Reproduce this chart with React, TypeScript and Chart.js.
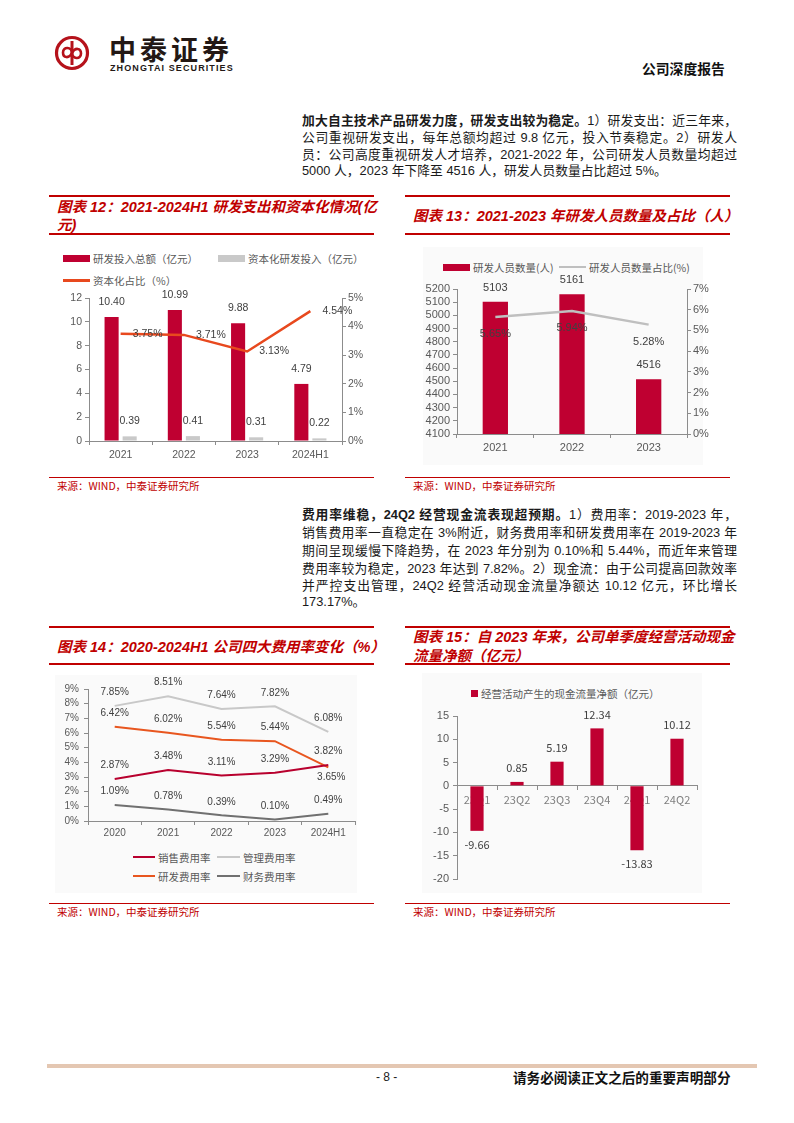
import React, { useEffect, useRef } from "react";
import { Chart, registerables } from "chart.js";

Chart.register(...registerables);

// ---------- Data: 图表12 ----------
const rdYears = ["2021", "2022", "2023", "2024H1"];
const rdTotal = [10.4, 10.99, 9.88, 4.79];
const rdCapitalized = [0.39, 0.41, 0.31, 0.22];
const rdCapRatio = [3.75, 3.71, 3.13, 4.54];

// ---------- Data: 图表13 ----------
const staffYears = ["2021", "2022", "2023"];
const staffCount = [5103, 5161, 4516];
const staffRatio = [5.65, 5.94, 5.28];

// ---------- Data: 图表14 ----------
const feeYears = ["2020", "2021", "2022", "2023", "2024H1"];
const salesRate = [2.87, 3.48, 3.11, 3.29, 3.82];
const adminRate = [7.85, 8.51, 7.64, 7.82, 6.08];
const rdRate = [6.42, 6.02, 5.54, 5.44, 3.65];
const finRate = [1.09, 0.78, 0.39, 0.1, 0.49];

// ---------- Data: 图表15 ----------
const quarters = ["23Q1", "23Q2", "23Q3", "23Q4", "24Q1", "24Q2"];
const opCashFlow = [-9.66, 0.85, 5.19, 12.34, -13.83, 10.12];

// ---------- Styles ----------
const SANS = '"Liberation Sans", Arial, "Noto Sans CJK SC", sans-serif';
const CJK = '"Noto Sans CJK SC", "Liberation Sans", sans-serif';
const RED = "#c00000";
const CRIMSON = "#bf0031";
const ORANGE = "#e8491e";
const GREY_BAR = "#c9c9c9";
const AXIS = "#8c8c8c";
const TICK = "#595959";
const LABEL = "#404040";
const LEGEND = "#595959";

const valueLabelPlugin = {
  id: "valueLabel",
  afterDatasetsDraw(chart: any) {
    const ctx = chart.ctx;
    chart.data.datasets.forEach((ds: any, di: number) => {
      const cfg = ds.valueLabel;
      if (!cfg) return;
      const meta = chart.getDatasetMeta(di);
      meta.data.forEach((el: any, i: number) => {
        const v = ds.data[i];
        let dx = cfg.dx || 0;
        let dy = cfg.dy || 0;
        if (cfg.signed && v < 0) dy = -dy;
        if (cfg.override && cfg.override[i]) {
          const o = cfg.override[i];
          if (o.dx !== undefined) dx = o.dx;
          if (o.dy !== undefined) dy = o.dy;
        }
        ctx.save();
        ctx.font = cfg.font;
        ctx.fillStyle = cfg.color || LABEL;
        ctx.textAlign = "center";
        ctx.textBaseline = "middle";
        ctx.fillText(cfg.format(v), el.x + dx, el.y + dy);
        ctx.restore();
      });
    });
  },
};

function axisGrid() {
  return { display: true, drawOnChartArea: false, drawTicks: true, tickLength: 4, color: AXIS, lineWidth: 1 };
}

function ChartBox(props: { left: number; top: number; width: number; height: number; make: () => any }) {
  const ref = useRef<HTMLCanvasElement>(null);
  useEffect(() => {
    const chart = new Chart(ref.current as HTMLCanvasElement, props.make());
    return () => chart.destroy();
  }, []);
  return (
    <canvas
      ref={ref}
      width={props.width}
      height={props.height}
      style={{ position: "absolute", left: props.left, top: props.top, width: props.width, height: props.height }}
    />
  );
}

// ---------- Chart configs ----------
function chart12() {
  const f = { family: SANS, size: 10.5 };
  return {
    type: "bar",
    data: {
      labels: rdYears,
      datasets: [
        {
          label: "研发投入总额（亿元）",
          data: rdTotal,
          backgroundColor: CRIMSON,
          yAxisID: "y",
          order: 1,
          categoryPercentage: 0.571,
          barPercentage: 0.78,
          valueLabel: { dy: -15, font: `10.5px ${SANS}`, format: (v: number) => v.toFixed(2) },
        },
        {
          label: "资本化研发投入（亿元）",
          data: rdCapitalized,
          backgroundColor: GREY_BAR,
          yAxisID: "y",
          order: 1,
          categoryPercentage: 0.571,
          barPercentage: 0.78,
          valueLabel: { dy: -15, font: `10.5px ${SANS}`, format: (v: number) => v.toFixed(2) },
        },
        {
          type: "line",
          label: "资本化占比（%）",
          data: rdCapRatio,
          yAxisID: "y1",
          borderColor: ORANGE,
          backgroundColor: ORANGE,
          borderWidth: 2.5,
          pointRadius: 0,
          tension: 0,
          order: 0,
          valueLabel: { dx: 27, dy: 0, font: `10.5px ${SANS}`, format: (v: number) => v.toFixed(2) + "%" },
        },
      ],
    },
    options: {
      responsive: false,
      animation: false,
      layout: { padding: { top: 13, left: 0, right: 0, bottom: 0 } },
      plugins: { legend: { display: false }, tooltip: { enabled: false } },
      scales: {
        x: {
          offset: true,
          grid: { ...axisGrid(), offset: true },
          border: { display: true, color: AXIS },
          ticks: { color: TICK, font: f, padding: 4 },
          afterFit: (s: any) => { s.height = 34; },
        },
        y: {
          position: "left",
          min: 0,
          max: 12,
          grid: axisGrid(),
          border: { display: true, color: AXIS },
          ticks: { stepSize: 2, color: TICK, font: f, padding: 3, autoSkip: false },
          afterFit: (s: any) => { s.width = 44; },
        },
        y1: {
          position: "right",
          min: 0,
          max: 5,
          grid: axisGrid(),
          border: { display: true, color: AXIS },
          ticks: { stepSize: 1, color: TICK, font: f, padding: 2, autoSkip: false, callback: (v: any) => v + "%" },
          afterFit: (s: any) => { s.width = 43; },
        },
      },
    },
    plugins: [valueLabelPlugin],
  };
}

function chart13() {
  const f = { family: SANS, size: 11 };
  return {
    type: "bar",
    data: {
      labels: staffYears,
      datasets: [
        {
          label: "研发人员数量(人)",
          data: staffCount,
          backgroundColor: CRIMSON,
          yAxisID: "y",
          order: 1,
          categoryPercentage: 1,
          barPercentage: 0.33,
          valueLabel: { dy: -14, font: `11px ${SANS}`, format: (v: number) => String(v) },
        },
        {
          type: "line",
          label: "研发人员数量占比(%)",
          data: staffRatio,
          yAxisID: "y1",
          borderColor: "#bfbfbf",
          backgroundColor: "#bfbfbf",
          borderWidth: 2.5,
          pointRadius: 0,
          order: 0,
          valueLabel: { dy: 17, font: `11px ${SANS}`, format: (v: number) => v.toFixed(2) + "%" },
        },
      ],
    },
    options: {
      responsive: false,
      animation: false,
      layout: { padding: { top: 14, left: 0, right: 0, bottom: 0 } },
      plugins: { legend: { display: false }, tooltip: { enabled: false } },
      scales: {
        x: {
          offset: true,
          grid: { ...axisGrid(), offset: true },
          border: { display: true, color: AXIS },
          ticks: { color: TICK, font: f, padding: 3 },
          afterFit: (s: any) => { s.height = 26; },
        },
        y: {
          position: "left",
          min: 4100,
          max: 5200,
          grid: axisGrid(),
          border: { display: true, color: AXIS },
          ticks: { stepSize: 100, color: TICK, font: f, padding: 3, autoSkip: false, callback: (v: any) => String(v) },
          afterFit: (s: any) => { s.width = 52; },
        },
        y1: {
          position: "right",
          min: 0,
          max: 7,
          grid: axisGrid(),
          border: { display: true, color: AXIS },
          ticks: { stepSize: 1, color: TICK, font: f, padding: 2, autoSkip: false, callback: (v: any) => v + "%" },
          afterFit: (s: any) => { s.width = 38; },
        },
      },
    },
    plugins: [valueLabelPlugin],
  };
}

function chart14() {
  const f = { family: SANS, size: 10 };
  const lbl = (extra: any = {}) => ({
    dy: -13.5,
    font: `10px ${SANS}`,
    format: (v: number) => v.toFixed(2) + "%",
    ...extra,
  });
  const line = (label: string, data: number[], color: string, extra: any = {}) => ({
    label,
    data,
    borderColor: color,
    backgroundColor: color,
    borderWidth: 2,
    pointRadius: 0,
    tension: 0,
    ...extra,
  });
  return {
    type: "line",
    data: {
      labels: feeYears,
      datasets: [
        line("管理费用率", adminRate, "#c8c8c8", { valueLabel: lbl() }),
        line("财务费用率", finRate, "#707070", { valueLabel: lbl() }),
        line("销售费用率", salesRate, "#b8002e", { valueLabel: lbl() }),
        line("研发费用率", rdRate, "#e8561f", { valueLabel: lbl({ override: { 4: { dx: 3, dy: 10 } } }) }),
      ],
    },
    options: {
      responsive: false,
      animation: false,
      layout: { padding: { top: 21, left: 0, right: 20, bottom: 0 } },
      plugins: { legend: { display: false }, tooltip: { enabled: false } },
      scales: {
        x: {
          offset: true,
          grid: { ...axisGrid(), offset: true },
          border: { display: true, color: AXIS },
          ticks: { color: TICK, font: f, padding: 2 },
          afterFit: (s: any) => { s.height = 22; },
        },
        y: {
          min: 0,
          max: 9,
          grid: axisGrid(),
          border: { display: true, color: AXIS },
          ticks: { stepSize: 1, color: TICK, font: f, padding: 5, autoSkip: false, callback: (v: any) => v + "%" },
          afterFit: (s: any) => { s.width = 43; },
        },
      },
    },
    plugins: [valueLabelPlugin],
  };
}

function chart15() {
  const f = { family: SANS, size: 11 };
  return {
    type: "bar",
    data: {
      labels: quarters,
      datasets: [
        {
          label: "经营活动产生的现金流量净额（亿元）",
          data: opCashFlow,
          backgroundColor: CRIMSON,
          categoryPercentage: 1,
          barPercentage: 0.33,
          valueLabel: { dy: -14, signed: true, font: `11px ${CJK}`, format: (v: number) => v.toFixed(2) },
        },
      ],
    },
    options: {
      responsive: false,
      animation: false,
      layout: { padding: { top: 16, left: 0, right: 13, bottom: 11 } },
      plugins: { legend: { display: false }, tooltip: { enabled: false } },
      scales: {
        x: {
          position: { y: 0 },
          offset: true,
          grid: { ...axisGrid(), offset: true },
          border: { display: true, color: AXIS },
          ticks: { color: "#7f7f7f", font: { family: CJK, size: 11 }, padding: 3 },
        },
        y: {
          min: -20,
          max: 15,
          grid: axisGrid(),
          border: { display: true, color: AXIS },
          ticks: { stepSize: 5, color: TICK, font: f, padding: 4, autoSkip: false },
          afterFit: (s: any) => { s.width = 47; },
        },
      },
    },
    plugins: [valueLabelPlugin],
  };
}

// ---------- Page helpers ----------
function HLine(props: { x1: number; x2: number; y: number; h: number; color: string }) {
  return (
    <div
      style={{
        position: "absolute",
        left: props.x1,
        top: props.y - props.h / 2,
        width: props.x2 - props.x1,
        height: props.h,
        background: props.color,
      }}
    />
  );
}

function TextAt(props: {
  x: number;
  y: number;
  size: number;
  children: any;
  color?: string;
  bold?: boolean;
  italic?: boolean;
  family?: string;
  width?: number;
  justify?: boolean;
  spacing?: number;
}) {
  const lh = Math.round(props.size * 1.4);
  return (
    <div
      style={{
        position: "absolute",
        left: props.x,
        top: props.y - lh / 2,
        width: props.width,
        height: lh,
        lineHeight: lh + "px",
        fontSize: props.size,
        fontFamily: props.family || SANS,
        fontWeight: props.bold ? 700 : 400,
        fontStyle: props.italic ? "italic" : "normal",
        color: props.color || "#1a1a1a",
        textAlign: props.justify ? "justify" : "left",
        textAlignLast: props.justify ? "justify" : "auto",
        letterSpacing: props.spacing,
        whiteSpace: props.width ? "normal" : "nowrap",
      }}
    >
      {props.children}
    </div>
  );
}

function Title(props: { x1: number; x2: number; top: number; bottom: number; lines: string[]; centers: number[] }) {
  return (
    <>
      <HLine x1={props.x1} x2={props.x2} y={props.top} h={2} color={RED} />
      {props.lines.map((t, i) => (
        <TextAt key={i} x={props.x1 + 8} y={props.centers[i]} size={14.5} bold italic color={RED}>
          {t}
        </TextAt>
      ))}
      <HLine x1={props.x1} x2={props.x2} y={props.bottom} h={1.5} color={RED} />
    </>
  );
}

function Source(props: { x1: number; x2: number; y: number }) {
  return (
    <>
      <HLine x1={props.x1} x2={props.x2} y={props.y} h={1} color={RED} />
      <TextAt x={props.x1 + 8} y={props.y + 8} size={10.5} color={RED} family={CJK}>
        来源：WIND，中泰证券研究所
      </TextAt>
    </>
  );
}

function LegendBox(props: { x: number; y: number; w: number; h: number; color: string; label: string }) {
  return (
    <>
      <div
        style={{
          position: "absolute",
          left: props.x,
          top: props.y - props.h / 2,
          width: props.w,
          height: props.h,
          background: props.color,
        }}
      />
      <TextAt x={props.x + props.w + 3} y={props.y} size={10.5} color={LEGEND} family={CJK}>
        {props.label}
      </TextAt>
    </>
  );
}

function Bg(props: { x: number; y: number; w: number; h: number }) {
  return (
    <div style={{ position: "absolute", left: props.x, top: props.y, width: props.w, height: props.h, background: "#fafafa" }} />
  );
}

function Logo() {
  return (
    <>
      <svg width="36" height="36" viewBox="0 0 36 36" style={{ position: "absolute", left: 53.5, top: 34.5 }}>
        <circle cx="18" cy="18" r="15.5" fill="none" stroke="#b5121b" strokeWidth="3.2" />
        <line x1="18" y1="6" x2="18" y2="30" stroke="#b5121b" strokeWidth="3" />
        <path d="M18 18 C18 12, 9 11, 9 17.5 C9 23, 15 24, 18 18" fill="none" stroke="#b5121b" strokeWidth="2.6" />
        <path d="M18 18 C21 12, 27 13, 27 18.5 C27 25, 18 24, 18 18" fill="none" stroke="#b5121b" strokeWidth="2.6" />
      </svg>
      <TextAt x={109} y={49} size={27} bold family={CJK} color="#231815" spacing={4}>
        中泰证券
      </TextAt>
      <TextAt x={110} y={68} size={9} bold color="#231815" spacing={1.1}>
        ZHONGTAI SECURITIES
      </TextAt>
    </>
  );
}

const P_X = 302;
const P_W = 435;
const P_SIZE = 12.8;

function PLine(props: { y: number; last?: boolean; children: any }) {
  return (
    <TextAt x={P_X} y={props.y} size={P_SIZE} width={P_W} justify={!props.last}>
      {props.children}
    </TextAt>
  );
}

const B = (props: { children: any }) => <span style={{ fontWeight: 700 }}>{props.children}</span>;

export default function App() {
  useEffect(() => {
    document.body.style.margin = "0";
  }, []);
  return (
    <div
      style={{
        position: "absolute",
        left: 0,
        top: 0,
        width: 794,
        height: 1123,
        background: "#ffffff",
        overflow: "hidden",
        fontFamily: SANS,
      }}
    >
      <Logo />
      <TextAt x={642} y={68} size={13.8} bold family={CJK} color="#111">
        公司深度报告
      </TextAt>

      {/* Paragraph 1 */}
      <PLine y={121}>
        <B>加大自主技术产品研发力度，研发支出较为稳定。</B>1）研发支出：近三年来，
      </PLine>
      <PLine y={138}>公司重视研发支出，每年总额均超过 9.8 亿元，投入节奏稳定。2）研发人</PLine>
      <PLine y={154.5}>员：公司高度重视研发人才培养，2021-2022 年，公司研发人员数量均超过</PLine>
      <PLine y={171} last>
        5000 人，2023 年下降至 4516 人，研发人员数量占比超过 5%。
      </PLine>

      {/* Chart 12 */}
      <Title x1={49} x2={374} top={196} bottom={234} lines={["图表 12：2021-2024H1 研发支出和资本化情况(亿", "元)"]} centers={[207, 225]} />
      <LegendBox x={63} y={258.5} w={27} h={7} color={CRIMSON} label="研发投入总额（亿元）" />
      <LegendBox x={218} y={258.5} w={27} h={7} color={GREY_BAR} label="资本化研发投入（亿元）" />
      <LegendBox x={63} y={280.5} w={27} h={2.5} color={ORANGE} label="资本化占比（%）" />
      <ChartBox left={45} top={285} width={340} height={190} make={chart12} />
      <Source x1={49} x2={374} y={477} />

      {/* Chart 13 */}
      <Title x1={405} x2={730} top={196} bottom={234} lines={["图表 13：2021-2023 年研发人员数量及占比（人）"]} centers={[216]} />
      <Bg x={423} y={247} w={280} h={218} />
      <LegendBox x={443} y={267} w={27} h={7} color={CRIMSON} label="研发人员数量(人)" />
      <LegendBox x={559} y={267} w={27} h={2.5} color="#bfbfbf" label="研发人员数量占比(%)" />
      <ChartBox left={405} top={275} width={320} height={185} make={chart13} />
      <Source x1={405} x2={730} y={477} />

      {/* Paragraph 2 */}
      <PLine y={515}>
        <B>费用率维稳，24Q2 经营现金流表现超预期。</B>1）费用率：2019-2023 年，
      </PLine>
      <PLine y={533}>销售费用率一直稳定在 3%附近，财务费用率和研发费用率在 2019-2023 年</PLine>
      <PLine y={551}>期间呈现缓慢下降趋势，在 2023 年分别为 0.10%和 5.44%，而近年来管理</PLine>
      <PLine y={568.5}>费用率较为稳定，2023 年达到 7.82%。2）现金流：由于公司提高回款效率</PLine>
      <PLine y={586}>并严控支出管理，24Q2 经营活动现金流量净额达 10.12 亿元，环比增长</PLine>
      <PLine y={602} last>
        173.17%。
      </PLine>

      {/* Chart 14 */}
      <Title x1={49} x2={374} top={627} bottom={664} lines={["图表 14：2020-2024H1 公司四大费用率变化（%）"]} centers={[647]} />
      <Bg x={55} y={675} w={302} h={218} />
      <ChartBox left={45} top={668} width={330} height={175} make={chart14} />
      <LegendBox x={133} y={857} w={22} h={2.5} color="#b8002e" label="销售费用率" />
      <LegendBox x={217} y={857} w={23} h={2.5} color="#c8c8c8" label="管理费用率" />
      <LegendBox x={133} y={876} w={22} h={2.5} color="#e8561f" label="研发费用率" />
      <LegendBox x={217} y={876} w={23} h={2.5} color="#707070" label="财务费用率" />
      <Source x1={49} x2={374} y={903} />

      {/* Chart 15 */}
      <Title
        x1={405}
        x2={730}
        top={627}
        bottom={664}
        lines={["图表 15：自 2023 年来，公司单季度经营活动现金", "流量净额（亿元）"]}
        centers={[637, 656]}
      />
      <Bg x={422} y={673} w={280} h={220} />
      <LegendBox x={471} y={693} w={7} h={7} color={CRIMSON} label="经营活动产生的现金流量净额（亿元）" />
      <ChartBox left={410} top={700} width={300} height={190} make={chart15} />
      <Source x1={405} x2={730} y={903} />

      {/* Footer */}
      <HLine x1={47} x2={757} y={1066} h={4} color="#e4c7b2" />
      <TextAt x={376} y={1077} size={12} color="#222">
        - 8 -
      </TextAt>
      <TextAt x={513} y={1077} size={13.6} bold family={CJK} color="#111">
        请务必阅读正文之后的重要声明部分
      </TextAt>
    </div>
  );
}
